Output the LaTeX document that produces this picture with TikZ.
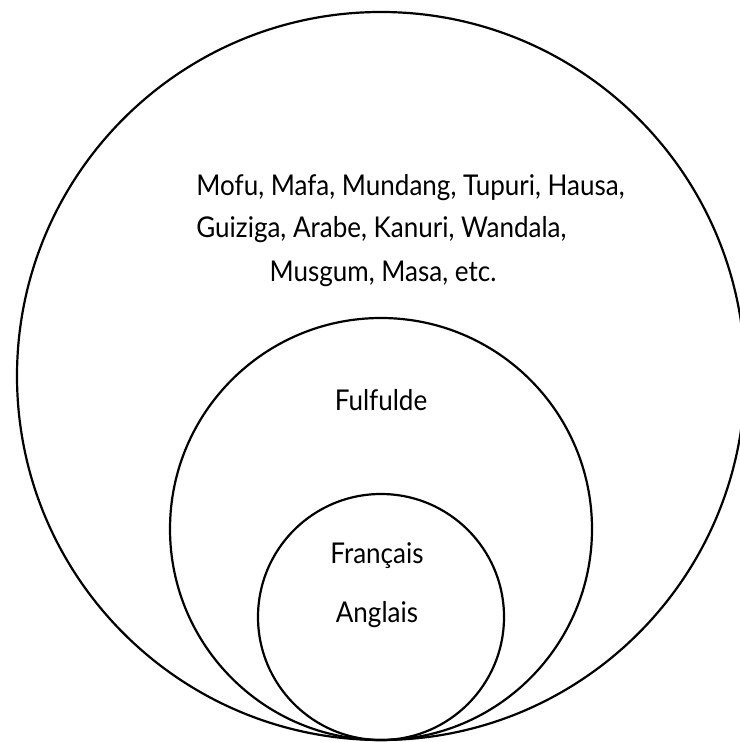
\documentclass[tikz,border=0pt]{standalone}
\usepackage{fontspec}
\setmainfont{Lato}[FakeStretch=0.91]
\usetikzlibrary{positioning}

\begin{document}
\begin{tikzpicture}[
    x=0.5pt, y=-0.5pt,
    ring/.style={
        circle,
        draw=black,
        inner sep=0pt,
        line width=1.1pt
    },
    lang/.style={
        inner sep=0pt,
        font=\fontsize{14.3}{17}\selectfont
    }
]
    \useasboundingbox (0,0) rectangle (739,742);

    % Circles, all touching at the bottom
    \node[ring, minimum size=728*0.5pt] (outer) at (381,376) {};
    \node[ring, minimum size=422*0.5pt] (middle) at (381,529) {};
    \node[ring, minimum size=246*0.5pt] (inner) at (381,617) {};

    % Labels
    \node[lang, anchor=base west] (local1) at (196,196) {Mofu, Mafa, Mundang, Tupuri, Hausa,};
    \node[lang, anchor=base west] (local2) at (196,238) {Guiziga, Arabe, Kanuri, Wandala,};
    \node[lang, anchor=base] (local3) at (383,282) {Musgum, Masa, etc.};
    \node[lang, anchor=base] (fulfulde) at (381,410) {Fulfulde};
    \node[lang, anchor=base] (francais) at (377,563) {Français};
    \node[lang, anchor=base] (anglais) at (377,622) {Anglais};
\end{tikzpicture}
\end{document}
